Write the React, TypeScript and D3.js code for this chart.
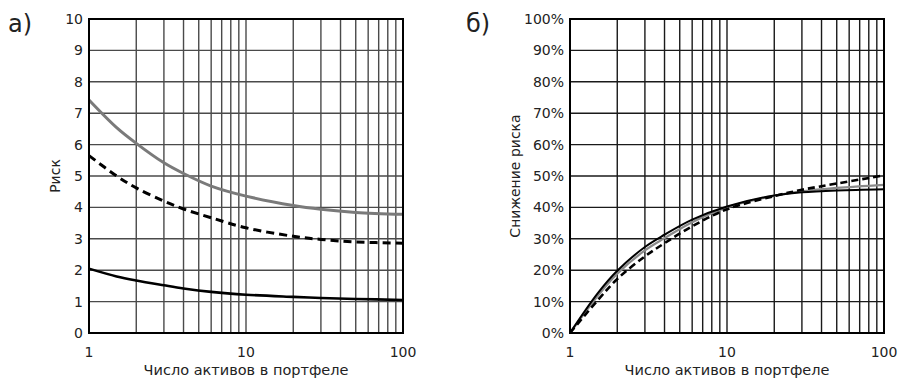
import React from "react";
import * as d3 from "d3";

// число активов
const assets = [1, 1.5, 2, 3, 4, 6, 10, 20, 30, 50, 100];

// а) риск
const riskGray = [7.42, 6.54, 6.04, 5.42, 5.08, 4.68, 4.36, 4.06, 3.94, 3.84, 3.78];
const riskDashed = [5.65, 5.0, 4.62, 4.2, 3.95, 3.67, 3.35, 3.08, 2.98, 2.9, 2.86];
const riskBlack = [2.05, 1.8, 1.67, 1.52, 1.42, 1.31, 1.22, 1.15, 1.115, 1.085, 1.05];

// б) снижение риска, %
const redBlack = [0, 12.6, 19.8, 27.4, 31.3, 36.1, 40.3, 43.8, 44.8, 45.4, 45.8];
const redGray = [0, 11.8, 18.9, 26.3, 30.2, 35.3, 40.0, 43.7, 45.1, 46.2, 47.2];
const redDashed = [0, 10.4, 17.2, 24.4, 28.6, 34.0, 39.4, 43.6, 45.6, 47.6, 50.2];

const riskTicks = [0, 1, 2, 3, 4, 5, 6, 7, 8, 9, 10];
const pctTicks = [0, 10, 20, 30, 40, 50, 60, 70, 80, 90, 100];
const xLabels = [1, 10, 100];

const FONT = "DejaVu Sans, Verdana, sans-serif";
const xGrid = d3.range(2, 10).flatMap((d) => [d, d * 10]).concat([10]);

type Series = { values: number[]; stroke: string; width: number; dash?: string };

const Panel = ({
  left,
  right,
  yMax,
  yTicks,
  fmt,
  yTitle,
  titleX,
  letter,
  letterX,
  gridColor,
  series,
}: {
  left: number;
  right: number;
  yMax: number;
  yTicks: number[];
  fmt: (d: number) => string;
  yTitle: string;
  titleX: number;
  letter: string;
  letterX: number;
  gridColor: string;
  series: Series[];
}) => {
  const top = 19;
  const bottom = 333;
  const x = d3.scaleLog().domain([1, 100]).range([left, right]);
  const y = d3.scaleLinear().domain([0, yMax]).range([bottom, top]);
  const line = d3
    .line<number>()
    .x((_, i) => x(assets[i]))
    .y((d) => y(d))
    .curve(d3.curveCatmullRom.alpha(0.5));

  return (
    <g fontFamily={FONT} fill="#222">
      {xGrid.map((d) => (
        <line key={"v" + d} x1={x(d)} x2={x(d)} y1={top} y2={bottom} stroke={gridColor} strokeWidth={1.4} />
      ))}
      {yTicks.map((d) => (
        <line key={"h" + d} x1={left} x2={right} y1={y(d)} y2={y(d)} stroke={gridColor} strokeWidth={1.4} />
      ))}
      {series.map((s, i) => (
        <path
          key={i}
          d={line(s.values) || ""}
          fill="none"
          stroke={s.stroke}
          strokeWidth={s.width}
          strokeDasharray={s.dash}
        />
      ))}
      <rect x={left} y={top} width={right - left} height={bottom - top} fill="none" stroke="#000" strokeWidth={2} />
      {yTicks.map((d) => (
        <text key={"t" + d} x={left - 6} y={y(d)} dy="0.35em" textAnchor="end" fontSize={14}>
          {fmt(d)}
        </text>
      ))}
      {xLabels.map((d) => (
        <text key={"x" + d} x={x(d)} y={352} dy="0.35em" textAnchor="middle" fontSize={14}>
          {d}
        </text>
      ))}
      <text x={(left + right) / 2} y={370} dy="0.35em" textAnchor="middle" fontSize={14.5}>
        Число активов в портфеле
      </text>
      <text
        transform={`translate(${titleX},${(top + bottom) / 2}) rotate(-90)`}
        dy="0.35em"
        textAnchor="middle"
        fontSize={14}
      >
        {yTitle}
      </text>
      <text x={letterX} y={24} dy="0.35em" fontSize={24}>
        {letter}
      </text>
    </g>
  );
};

export default function App() {
  return (
    <svg width={898} height={380} style={{ position: "absolute", left: 0, top: 0, background: "#fff" }}>
      <Panel
        left={89}
        right={403}
        yMax={10}
        yTicks={riskTicks}
        fmt={(d) => String(d)}
        yTitle="Риск"
        titleX={55}
        letter="а)"
        letterX={8}
        gridColor="#4a4a4a"
        series={[
          { values: riskGray, stroke: "#7a7a7a", width: 3 },
          { values: riskDashed, stroke: "#000", width: 3, dash: "8,5" },
          { values: riskBlack, stroke: "#000", width: 2.6 },
        ]}
      />
      <Panel
        left={570}
        right={884}
        yMax={100}
        yTicks={pctTicks}
        fmt={(d) => d + "%"}
        yTitle="Снижение риска"
        titleX={515}
        letter="б)"
        letterX={466}
        gridColor="#1a1a1a"
        series={[
          { values: redGray, stroke: "#8a8a8a", width: 2.2 },
          { values: redDashed, stroke: "#000", width: 2.6, dash: "7,4" },
          { values: redBlack, stroke: "#000", width: 2 },
        ]}
      />
    </svg>
  );
}
